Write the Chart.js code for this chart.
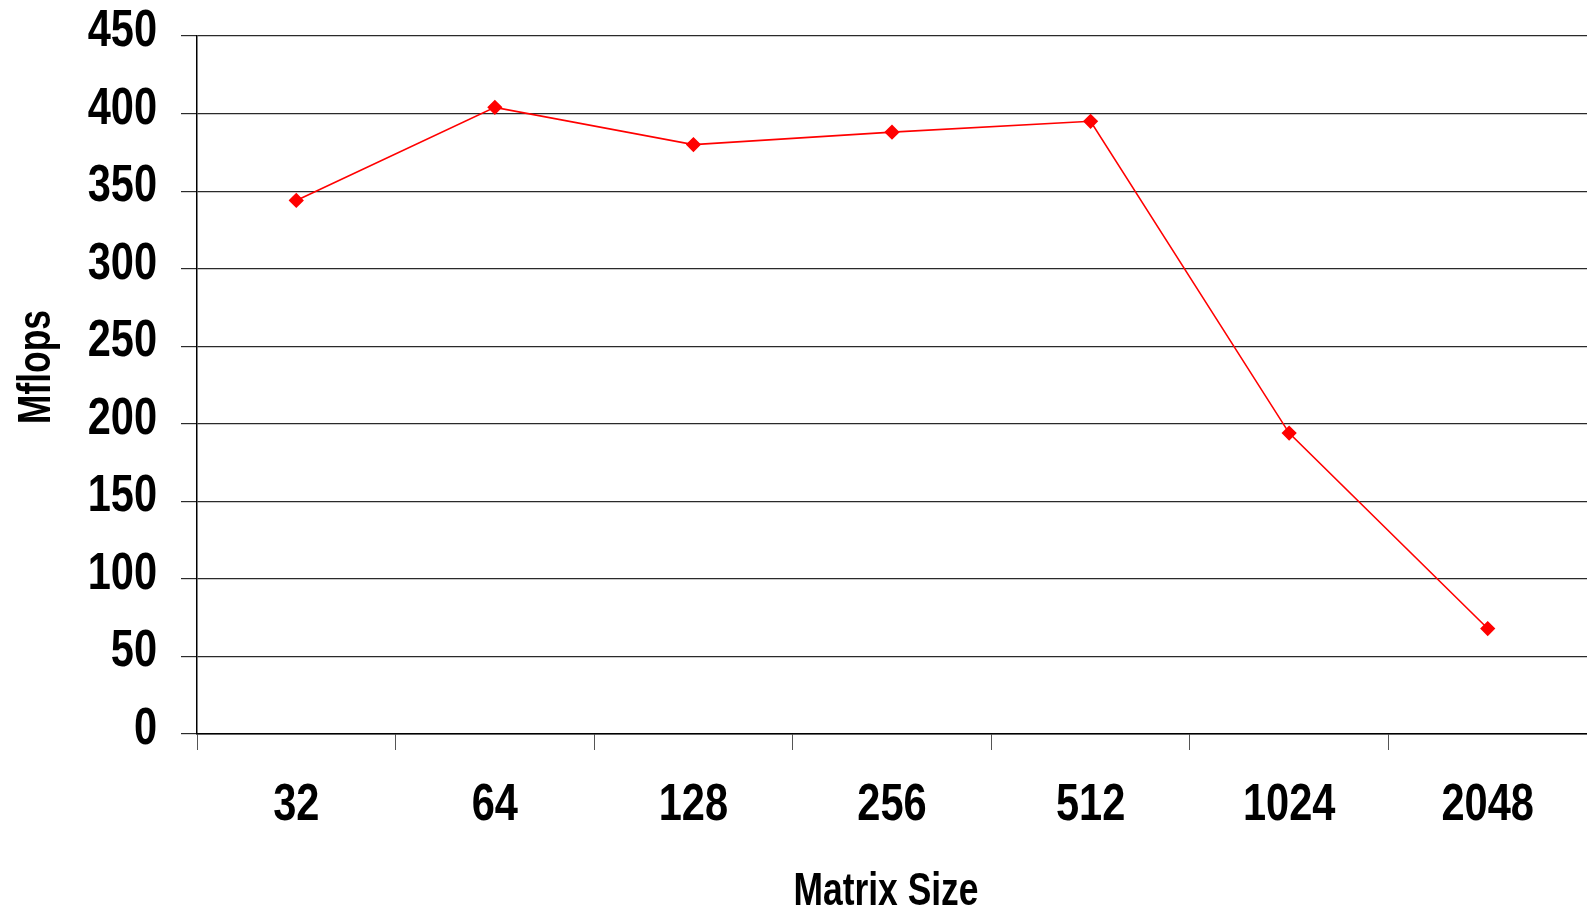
<!DOCTYPE html>
<html>
<head>
<meta charset="utf-8">
<script src="https://cdn.jsdelivr.net/npm/chart.js@4/dist/chart.umd.min.js"></script>
<style>
  html, body { margin: 0; padding: 0; background: #fff; }
  #wrap { width: 1587px; height: 913px; }
</style>
</head>
<body>
<div id="wrap"><canvas id="mflopsChart" width="1587" height="913"></canvas></div>
<script>
const matrixSizes = ['32', '64', '128', '256', '512', '1024', '2048'];
const mflops = [344, 404, 380, 388, 395, 194, 68];
const yTicks = [0, 50, 100, 150, 200, 250, 300, 350, 400, 450];

const FONT = "'Liberation Sans', Arial, sans-serif";

// Arial squeezed horizontally, close to Arial Narrow Bold
function drawNarrow(ctx, text, x, y, align, sx) {
    ctx.save();
    ctx.translate(x, y);
    ctx.scale(sx, 1);
    ctx.textAlign = align;
    ctx.fillText(text, 0, 0);
    ctx.restore();
}

// tick labels and axis titles, placed from the scales
const narrowLabels = {
    id: 'narrowLabels',
    afterDraw(chart) {
        const { ctx, scales: { x, y } } = chart;
        ctx.save();
        ctx.fillStyle = '#000';
        ctx.textBaseline = 'alphabetic';
        ctx.font = 'bold 51px ' + FONT;

        y.ticks.forEach((t, i) => {
            drawNarrow(ctx, String(t.value), 157, y.getPixelForTick(i) + 10, 'right', 0.815);
        });
        x.ticks.forEach((t, i) => {
            drawNarrow(ctx, x.getLabelForValue(t.value), x.getPixelForTick(i), 820, 'center', 0.815);
        });

        ctx.font = 'bold 46px ' + FONT;
        drawNarrow(ctx, 'Matrix Size', (x.left + x.right) / 2 - 6, 905, 'center', 0.77);

        ctx.translate(50, 367);
        ctx.rotate(-Math.PI / 2);
        drawNarrow(ctx, 'Mflops', 0, 0, 'center', 0.77);
        ctx.restore();
    }
};

const ctx = document.getElementById('mflopsChart').getContext('2d');
new Chart(ctx, {
    type: 'line',
    data: {
        labels: matrixSizes,
        datasets: [{
            label: 'Mflops',
            data: mflops,
            borderColor: '#ff0000',
            backgroundColor: '#ff0000',
            borderWidth: 1.6,
            pointStyle: 'rectRot',
            pointRadius: 6.5,
            pointHoverRadius: 6.5,
            tension: 0
        }]
    },
    options: {
        responsive: false,
        animation: false,
        layout: {
            autoPadding: false,
            padding: { top: 36, right: 0, left: 0, bottom: 0 }
        },
        plugins: {
            legend: { display: false },
            tooltip: { enabled: false }
        },
        scales: {
            x: {
                offset: true,
                grid: {
                    offset: true,
                    drawOnChartArea: false,
                    drawTicks: true,
                    tickLength: 16,
                    color: '#555'
                },
                border: { color: '#000', width: 1.5 },
                ticks: { display: false },
                afterFit(scale) { scale.height = 179; }
            },
            y: {
                min: 0,
                max: 450,
                afterBuildTicks(scale) {
                    scale.ticks = yTicks.map(v => ({ value: v }));
                },
                grid: {
                    color: '#2a2a2a',
                    lineWidth: 1.2,
                    tickLength: 16
                },
                border: { color: '#000', width: 1.5 },
                ticks: { display: false },
                afterFit(scale) { scale.width = 197; }
            }
        }
    },
    plugins: [narrowLabels]
});
</script>
</body>
</html>
